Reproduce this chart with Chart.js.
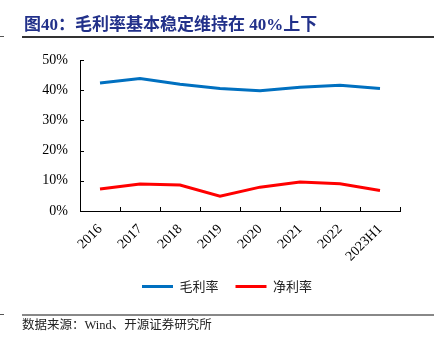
<!DOCTYPE html>
<html>
<head>
<meta charset="utf-8">
<script src="https://cdn.jsdelivr.net/npm/chart.js@4.4.0/dist/chart.umd.min.js"></script>
<style>
  body { margin: 0; background: #fff; }
  #wrap { position: relative; width: 448px; height: 343px; overflow: hidden; }
  #c { position: absolute; left: 0; top: 0; }
  .title { position: absolute; left: 24px; top: 10px; font: bold 17px "Liberation Serif", "Noto Sans CJK SC"; color: #22318a; white-space: nowrap; }
  .rule { position: absolute; left: 22px; width: 412px; }
  .dash { position: absolute; left: 0; width: 4px; height: 1px; background: #555; }
  .src { position: absolute; left: 22px; top: 314px; font: 12.5px "Liberation Serif", "Noto Sans CJK SC"; color: #222; white-space: nowrap; }
</style>
</head>
<body>
<div id="wrap">
  <canvas id="c" width="448" height="343"></canvas>
  <div class="title">图40：毛利率基本稳定维持在 40%上下</div>
  <div class="rule" style="top:36px;height:1.5px;background:#333;"></div>
  <div class="dash" style="top:36px;"></div>
  <div class="rule" style="top:314px;height:2px;background:#888;"></div>
  <div class="dash" style="top:314px;"></div>
  <div class="src">数据来源：Wind、开源证券研究所</div>
</div>
<script>
// categories and series (%)
let years = ['2016', '2017', '2018', '2019', '2020', '2021', '2022', '2023H1'];
let grossMargin = [42.4, 43.9, 42.0, 40.6, 39.8, 41.0, 41.6, 40.6];
let netMargin = [7.3, 8.9, 8.6, 4.9, 7.9, 9.6, 9.0, 6.8];
let yTicks = [0, 10, 20, 30, 40, 50];

// inward tick marks on both axes
let innerTicks = {
    id: 'innerTicks',
    afterDraw(chart) {
        let ctx = chart.ctx;
        let x = chart.scales.x;
        let y = chart.scales.y;
        ctx.save();
        ctx.strokeStyle = '#000';
        ctx.lineWidth = 1;
        ctx.beginPath();
        yTicks.forEach(v => {
            let py = Math.round(y.getPixelForValue(v)) + 0.5;
            ctx.moveTo(x.left, py);
            ctx.lineTo(x.left + 4, py);
        });
        let n = years.length;
        for (let i = 0; i <= n; i++) {
            let px;
            if (i == 0) px = x.left;
            else if (i == n) px = x.right;
            else px = (x.getPixelForTick(i - 1) + x.getPixelForTick(i)) / 2;
            px = Math.round(px) + 0.5;
            ctx.moveTo(px, y.bottom);
            ctx.lineTo(px, y.bottom - 4);
        }
        ctx.stroke();
        ctx.restore();
    }
};

// nudge the legend so it sits centred under the middle of the page
let legendShift = {
    id: 'legendShift',
    afterLayout(chart) {
        let lg = chart.legend;
        lg.left += 27;
        lg.right += 27;
        lg.top -= 1;
        lg.bottom -= 1;
    }
};

let datas = {
    labels: years,
    datasets: [
        {
            label: '毛利率',
            data: grossMargin,
            borderColor: '#0070c0',
            backgroundColor: '#0070c0',
            borderWidth: 3,
            pointRadius: 0,
            tension: 0
        },
        {
            label: '净利率',
            data: netMargin,
            borderColor: '#ff0000',
            backgroundColor: '#ff0000',
            borderWidth: 3,
            pointRadius: 0,
            tension: 0
        }
    ]
};

let config = {
    type: 'line',
    data: datas,
    options: {
        responsive: false,
        animation: false,
        layout: { padding: { top: 60, right: 48, left: 0, bottom: 39 } },
        plugins: {
            legend: {
                position: 'bottom',
                labels: {
                    boxWidth: 31,
                    boxHeight: 3,
                    padding: 17,
                    color: '#222',
                    font: { family: '"Noto Sans CJK SC"', size: 13 },
                    generateLabels(chart) {
                        let items = Chart.defaults.plugins.legend.labels.generateLabels(chart);
                        items.forEach(it => { it.lineWidth = 0; });
                        return items;
                    }
                }
            },
            tooltip: { enabled: false }
        },
        scales: {
            x: {
                offset: true,
                grid: { display: false },
                border: { display: true, color: '#000', width: 1 },
                ticks: {
                    color: '#000',
                    minRotation: 45,
                    maxRotation: 45,
                    padding: 2,
                    font: { family: '"Liberation Serif"', size: 14 }
                },
                afterFit(scale) { scale.height = 53; }
            },
            y: {
                min: 0,
                max: 50,
                grid: { display: false, drawTicks: false },
                border: { display: true, color: '#000', width: 1 },
                ticks: {
                    stepSize: 10,
                    padding: 12,
                    color: '#000',
                    font: { family: '"Liberation Serif"', size: 14 },
                    callback: v => v + '%'
                },
                afterFit(scale) { scale.width = 80; }
            }
        }
    },
    plugins: [innerTicks, legendShift]
};

let canvas = document.getElementById('c');
let chart = new Chart(canvas, config);
</script>
</body>
</html>
